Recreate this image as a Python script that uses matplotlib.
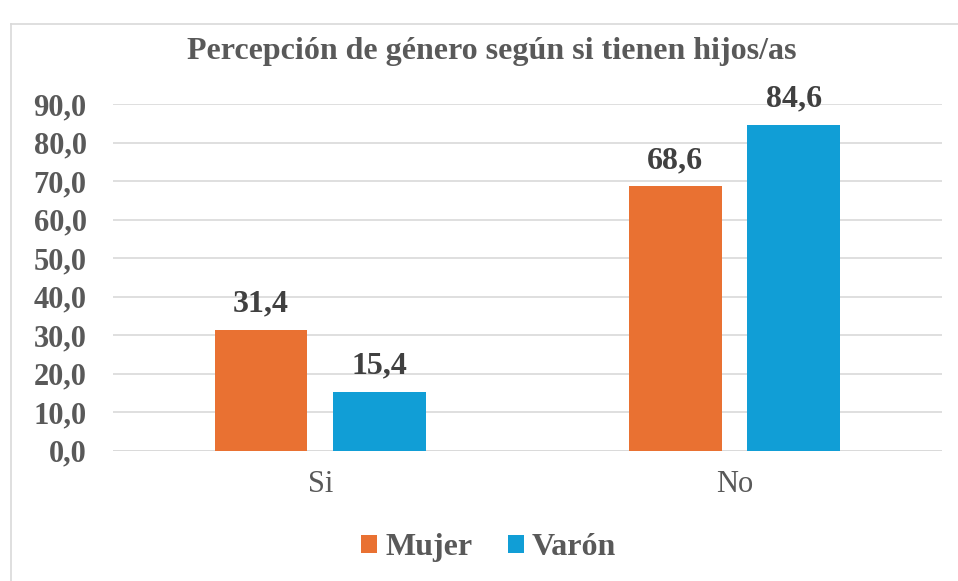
import numpy as np
import matplotlib.pyplot as plt
from matplotlib.lines import Line2D

# Données
categorias = ["Si", "No"]
mujer = [31.4, 68.6]
varon = [15.4, 84.6]
series = ["Mujer", "Varón"]
yticks = [0, 10, 20, 30, 40, 50, 60, 70, 80, 90]

col_mujer = "#E97132"
col_varon = "#119ED6"
gris = "#595959"

plt.rcParams['font.family'] = ['Liberation Serif', 'DejaVu Serif']

fig = plt.figure(figsize=(9.58, 5.81), dpi=100)
ax = fig.add_axes([0.118, 0.224, 0.865, 0.597])

x = np.arange(len(categorias))
w = 0.224
off = 0.143
b1 = ax.bar(x - off, mujer, w, color=col_mujer, label=series[0], zorder=3)
b2 = ax.bar(x + off, varon, w, color=col_varon, label=series[1], zorder=3)

for bars in (b1, b2):
    for r in bars:
        v = r.get_height()
        ax.annotate(f"{v:.1f}".replace(".", ","), (r.get_x() + r.get_width() / 2, v),
                    xytext=(0, 13), textcoords="offset points",
                    ha="center", va="baseline", fontsize=23, fontweight="bold", color="#404040")

ax.set_xlim(-0.5, 1.5)
ax.set_ylim(0, 90)
ax.set_yticks(yticks)
ax.set_yticklabels([f"{t:.1f}".replace(".", ",") for t in yticks],
                   fontsize=22, fontweight="bold", color=gris)
ax.set_xticks(x)
ax.set_xticklabels(categorias, fontsize=22, color=gris)
ax.tick_params(axis="x", length=0, pad=14)
ax.tick_params(axis="y", length=0, pad=19)
ax.yaxis.grid(True, color="#d9d9d9", linewidth=1.2, zorder=0)
for s in ax.spines.values():
    s.set_visible(False)
ax.axhline(0, color="#d9d9d9", linewidth=1.2, zorder=1)

fig.text(0.513, 0.912, "Percepción de género según si tienen hijos/as", ha="center", va="center",
         fontsize=23, fontweight="bold", color=gris)

leg = fig.legend(handles=[b1, b2], loc="center", bbox_to_anchor=(0.51, 0.057), ncol=2,
                 frameon=False, handlelength=0.5, handleheight=0.5, handletextpad=0.25,
                 columnspacing=1.1, prop={"size": 23, "weight": "bold"})
for t in leg.get_texts():
    t.set_color(gris)

# marco del gráfico
fig.add_artist(Line2D([0.0115, 0.0115], [0, 0.959], color="#d9d9d9", linewidth=1.2))
fig.add_artist(Line2D([0.0115, 1.0], [0.959, 0.959], color="#d9d9d9", linewidth=1.2))

fig.savefig("out.png", dpi=100)
